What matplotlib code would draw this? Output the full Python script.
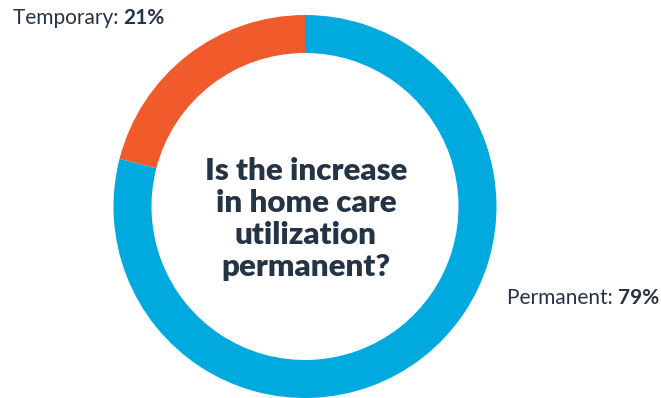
import matplotlib

matplotlib.use("Agg")
import matplotlib.pyplot as plt

LABELS = ["Temporary", "Permanent"]
SHARES = [21, 79]
COLORS = ["#F15A2B", "#00AADF"]
QUESTION = "Is the increase\nin home care\nutilization\npermanent?"
TEXT_COLOR = "#253445"

W, H = 661, 398
fig = plt.figure(figsize=(W / 100, H / 100), dpi=100)
ax = fig.add_axes([0, 0, 1, 1])

cx, cy, r = 305, H - 206.5, 191.5
ax.pie(
    SHARES,
    colors=COLORS,
    startangle=90,
    counterclock=True,
    center=(cx, cy),
    radius=r,
    wedgeprops={"width": 38, "linewidth": 0},
)
ax.set_xlim(0, W)
ax.set_ylim(0, H)
ax.set_aspect("equal")
ax.axis("off")

ax.text(cx + 1, H - 219, QUESTION, ha="center", va="center", fontsize=22.5,
        fontweight="heavy", family="Lato", color=TEXT_COLOR, linespacing=1.17)

LBL = 15


def label_pair(x, y, name, value, align):
    # name in regular weight, value in bold, joined side by side
    if align == "left":
        t = ax.text(x, y, f"{name}: ", ha="left", va="center", fontsize=LBL,
                    family="Lato", color=TEXT_COLOR)
        fig.canvas.draw()
        bb = t.get_window_extent()
        ax.text(bb.x1, y, f"{value}%", ha="left", va="center", fontsize=LBL,
                family="Lato", fontweight="bold", color=TEXT_COLOR)
    else:
        t = ax.text(x, y, f"{value}%", ha="right", va="center", fontsize=LBL,
                    family="Lato", fontweight="bold", color=TEXT_COLOR)
        fig.canvas.draw()
        bb = t.get_window_extent()
        ax.text(bb.x0, y, f"{name}: ", ha="right", va="center", fontsize=LBL,
                family="Lato", color=TEXT_COLOR)


label_pair(13, H - 18, LABELS[0], SHARES[0], "left")
label_pair(659, H - 298, LABELS[1], SHARES[1], "right")

fig.savefig("out.png", dpi=100)
